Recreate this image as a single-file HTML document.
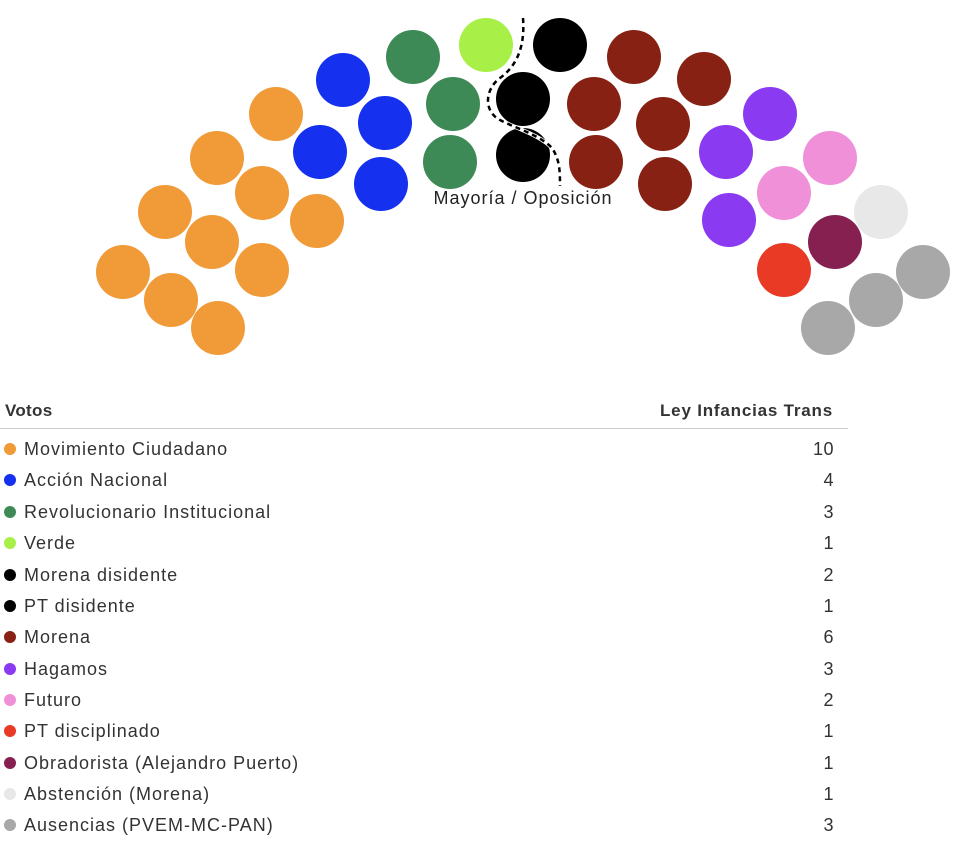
<!DOCTYPE html>
<html><head><meta charset="utf-8"><style>
body{margin:0;width:964px;height:846px;background:#fff;font-family:"Liberation Sans",sans-serif;color:#333;position:relative;overflow:hidden}
svg{position:absolute;left:0;top:0}
.row{position:absolute;left:0;width:848px;height:31px;font-size:18px;line-height:20px;letter-spacing:1px}
.row .d{position:absolute;left:4px;top:4px;width:12px;height:12px;border-radius:50%}
.row .l{position:absolute;left:24px;top:0}
.row .v{position:absolute;right:14px;top:0;letter-spacing:0.5px}
</style></head><body>
<svg width="964" height="400">
<g fill="#f09a38">
<circle cx="123" cy="272" r="27"/><circle cx="171" cy="300" r="27"/><circle cx="218" cy="328" r="27"/>
<circle cx="165" cy="212" r="27"/><circle cx="212" cy="242" r="27"/><circle cx="262" cy="270" r="27"/>
<circle cx="217" cy="158" r="27"/><circle cx="262" cy="193" r="27"/><circle cx="317" cy="221" r="27"/>
<circle cx="276" cy="114" r="27"/></g>
<g fill="#1530ee"><circle cx="343" cy="80" r="27"/><circle cx="385" cy="123" r="27"/><circle cx="320" cy="152" r="27"/><circle cx="381" cy="184" r="27"/></g>
<g fill="#3d8a56"><circle cx="413" cy="57" r="27"/><circle cx="453" cy="104" r="27"/><circle cx="450" cy="162" r="27"/></g>
<circle cx="486" cy="45" r="27" fill="#a8f048"/>
<g fill="#000"><circle cx="560" cy="45" r="27"/><circle cx="523" cy="99" r="27"/><circle cx="523" cy="155" r="27"/></g>
<g fill="#862114"><circle cx="634" cy="57" r="27"/><circle cx="594" cy="104" r="27"/><circle cx="596" cy="162" r="27"/><circle cx="704" cy="79" r="27"/><circle cx="663" cy="124" r="27"/><circle cx="665" cy="184" r="27"/></g>
<g fill="#8a3af0"><circle cx="770" cy="114" r="27"/><circle cx="726" cy="152" r="27"/><circle cx="729" cy="220" r="27"/></g>
<g fill="#f090d8"><circle cx="830" cy="158" r="27"/><circle cx="784" cy="193" r="27"/></g>
<circle cx="784" cy="270" r="27" fill="#e83a25"/>
<circle cx="835" cy="242" r="27" fill="#862050"/>
<circle cx="881" cy="212" r="27" fill="#e8e8e8"/>
<g fill="#a8a8a8"><circle cx="923" cy="272" r="27"/><circle cx="876" cy="300" r="27"/><circle cx="828" cy="328" r="27"/></g>
<path d="M523 18 C525 45 518 65 500 78 C484 90 484 112 500 120 C515 128 540 135 552 148 C560 160 560 172 560 186" fill="none" stroke="#fff" stroke-width="4"/>
<path d="M523 18 C525 45 518 65 500 78 C484 90 484 112 500 120 C515 128 540 135 552 148 C560 160 560 172 560 186" fill="none" stroke="#000" stroke-width="2.5" stroke-dasharray="5,4"/>
<text x="523" y="204" font-size="18" letter-spacing="1" text-anchor="middle" fill="#222" font-family="Liberation Sans, sans-serif">Mayoría / Oposición</text>
</svg>
<div style="position:absolute;left:5px;top:401px;font-size:17px;font-weight:bold;color:#333;letter-spacing:0.3px">Votos</div>
<div style="position:absolute;right:131px;top:401px;font-size:17px;font-weight:bold;color:#333;letter-spacing:0.8px">Ley Infancias Trans</div>
<div style="position:absolute;left:0;top:428px;width:848px;height:1px;background:#ccc"></div>
<div class="row" style="top:439px"><span class="d" style="background:#f09a38"></span><span class="l">Movimiento Ciudadano</span><span class="v">10</span></div>
<div class="row" style="top:470px"><span class="d" style="background:#1530ee"></span><span class="l">Acción Nacional</span><span class="v">4</span></div>
<div class="row" style="top:502px"><span class="d" style="background:#3d8a56"></span><span class="l">Revolucionario Institucional</span><span class="v">3</span></div>
<div class="row" style="top:533px"><span class="d" style="background:#a8f048"></span><span class="l">Verde</span><span class="v">1</span></div>
<div class="row" style="top:565px"><span class="d" style="background:#000"></span><span class="l">Morena disidente</span><span class="v">2</span></div>
<div class="row" style="top:596px"><span class="d" style="background:#000"></span><span class="l">PT disidente</span><span class="v">1</span></div>
<div class="row" style="top:627px"><span class="d" style="background:#862114"></span><span class="l">Morena</span><span class="v">6</span></div>
<div class="row" style="top:659px"><span class="d" style="background:#8a3af0"></span><span class="l">Hagamos</span><span class="v">3</span></div>
<div class="row" style="top:690px"><span class="d" style="background:#f090d8"></span><span class="l">Futuro</span><span class="v">2</span></div>
<div class="row" style="top:721px"><span class="d" style="background:#e83a25"></span><span class="l">PT disciplinado</span><span class="v">1</span></div>
<div class="row" style="top:753px"><span class="d" style="background:#862050"></span><span class="l">Obradorista (Alejandro Puerto)</span><span class="v">1</span></div>
<div class="row" style="top:784px"><span class="d" style="background:#e8e8e8"></span><span class="l">Abstención (Morena)</span><span class="v">1</span></div>
<div class="row" style="top:815px"><span class="d" style="background:#a8a8a8"></span><span class="l">Ausencias (PVEM-MC-PAN)</span><span class="v">3</span></div>
</body></html>
